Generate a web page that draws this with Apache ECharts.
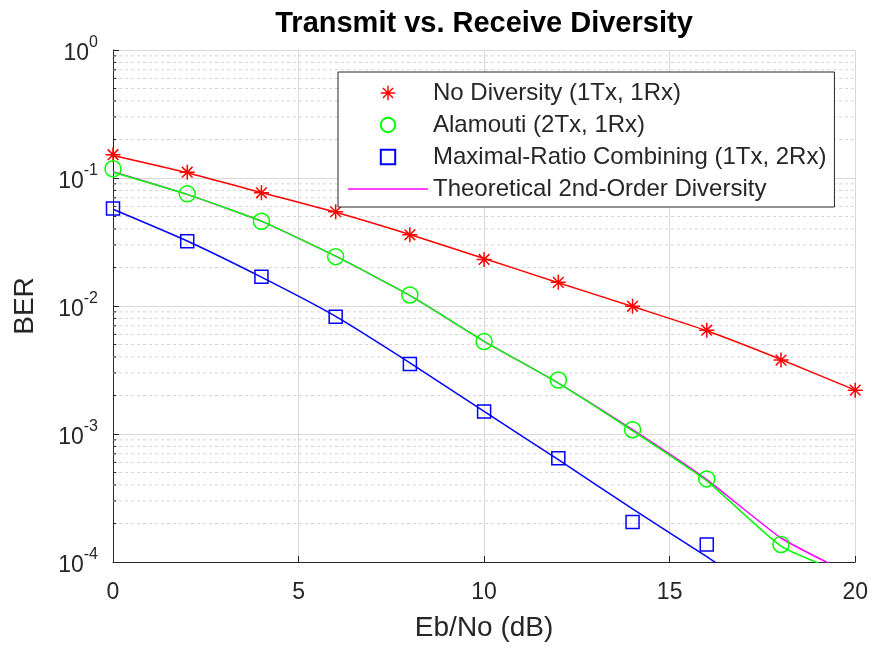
<!DOCTYPE html>
<html>
<head>
<meta charset="utf-8">
<script src="https://cdn.jsdelivr.net/npm/echarts@6/dist/echarts.min.js"></script>
<style>
	html, body { margin: 0; padding: 0; background: #fff; }
	#echarts { width: 871px; height: 647px; }
</style>
</head>
<body>
<div id="echarts"></div>
<script>
// Eb/No (dB)
let ebno = [0, 2, 4, 6, 8, 10, 12, 14, 16, 18, 20];
// simulated BER (markers)
let berNoDiv = [0.152, 0.111, 0.0766, 0.0545, 0.036, 0.0231, 0.0153, 0.00995, 0.00647, 0.00378, 0.0022];
let berAlamouti = [0.118, 0.0752, 0.0459, 0.0243, 0.0122, 0.00527, 0.00264, 0.00108, 0.000446, 0.000137];
let berMrc = [0.0577, 0.0321, 0.0169, 0.00826, 0.00352, 0.0015, 0.000647, 0.000205, 0.000137];
// fitted curves
let fitNoDiv = [0.150, 0.110, 0.0770, 0.0540, 0.0362, 0.0235, 0.0152, 0.0099, 0.0064, 0.00382, 0.0022];
let fitAlamouti = [0.111, 0.0745, 0.046, 0.0245, 0.0121, 0.0053, 0.0025, 0.00106, 0.00043, 0.000133, 0.000075];
let fitMrc = [0.057, 0.0322, 0.0168, 0.0083, 0.0036, 0.0015, 0.00063, 0.00026, 0.00011, 0.000045];
// theoretical 2nd-order diversity
let berTheory = [0.112, 0.0745, 0.046, 0.0245, 0.0121, 0.0053, 0.0025, 0.00108, 0.00044, 0.000154, 0.000077];

let legendNames = ['No Diversity (1Tx, 1Rx)', 'Alamouti (2Tx, 1Rx)', 'Maximal-Ratio Combining (1Tx, 2Rx)', 'Theoretical 2nd-Order Diversity'];
let yDecades = [1e-4, 1e-3, 1e-2, 1e-1, 1];

let font = "'Liberation Sans', Arial, Helvetica, sans-serif";
let ink = '#262626';
let starPath = 'path://M9 0 L11 0 L11 20 L9 20 Z M0 9 L20 9 L20 11 L0 11 Z M3.6 2.2 L17.8 16.4 L16.4 17.8 L2.2 3.6 Z M16.4 2.2 L17.8 3.6 L3.6 17.8 L2.2 16.4 Z';

function pairs(xs, ys) {
	return ys.map(function(y, i) { return [xs[i], y]; });
}

// dotted minor grid at 2..9 of each decade, one short series per line
let minorSeries = [];
for (let i = 0; i < yDecades.length - 1; i++) {
	for (let k = 2; k <= 9; k++) {
		let v = yDecades[i] * k;
		minorSeries.push({
			type: 'line',
			data: [[0, v], [20, v]],
			symbol: 'none',
			silent: true,
			z: 1,
			lineStyle: { color: '#d4d4d4', width: 1, type: [3, 3] }
		});
		// small inward tick on the left axis
		minorSeries.push({
			type: 'line',
			data: [[0, v], [0.09, v]],
			symbol: 'none',
			silent: true,
			z: 3,
			lineStyle: { color: ink, width: 1 }
		});
	}
}

let myChart = echarts.init(document.getElementById('echarts'), null, { renderer: 'canvas' });

let option = {
	animation: false,
	backgroundColor: '#fff',
	textStyle: { fontFamily: font, color: ink },
	title: {
		text: 'Transmit vs. Receive Diversity',
		left: 479,
		textAlign: 'center',
		top: 4,
		textStyle: { fontFamily: font, fontSize: 29, fontWeight: 'bold', color: '#000' }
	},
	grid: { left: 113, right: 15, top: 50, bottom: 84 },
	legend: {
		data: [
			{ name: legendNames[0] },
			{ name: legendNames[1] },
			{ name: legendNames[2] },
			{ name: legendNames[3], icon: 'path://M0 0 L80 0 L80 1.4 L0 1.4 Z' }
		],
		orient: 'vertical',
		left: 338,
		top: 72,
		itemWidth: 80,
		itemHeight: 18,
		itemGap: 8,
		padding: [9, 8, 6, 9],
		backgroundColor: '#fff',
		borderColor: ink,
		borderWidth: 1,
		borderRadius: 0,
		selectedMode: false,
		textStyle: { fontFamily: font, fontSize: 24, color: ink }
	},
	xAxis: {
		type: 'value',
		min: 0,
		max: 20,
		interval: 5,
		name: 'Eb/No (dB)',
		nameLocation: 'middle',
		nameGap: 52,
		nameTextStyle: { fontFamily: font, fontSize: 28, color: ink },
		axisLine: { lineStyle: { color: ink, width: 1 } },
		axisTick: { inside: true, length: 6, lineStyle: { color: ink } },
		axisLabel: { margin: 19, fontSize: 23, color: ink, fontFamily: font },
		splitLine: { show: true, lineStyle: { color: '#d8d8d8', width: 1 } }
	},
	yAxis: {
		type: 'log',
		logBase: 10,
		min: 1e-4,
		max: 1,
		name: 'BER',
		nameLocation: 'middle',
		nameGap: 74,
		nameTextStyle: { fontFamily: font, fontSize: 28, color: ink },
		axisLine: { show: true, lineStyle: { color: ink, width: 1 } },
		axisTick: { show: true, inside: true, length: 6, lineStyle: { color: ink } },
		axisLabel: {
			margin: 15,
			color: ink,
			fontFamily: font,
			formatter: function(value) {
				return '{b|10}{s|' + Math.round(Math.log10(value)) + '}';
			},
			rich: {
				b: { fontSize: 23, fontFamily: font, color: ink, verticalAlign: 'bottom' },
				s: { fontSize: 16, fontFamily: font, color: ink, verticalAlign: 'bottom', padding: [0, 0, 14, 0] }
			}
		},
		splitLine: { show: true, lineStyle: { color: '#d8d8d8', width: 1 } }
	},
	series: minorSeries.concat([
		{
			name: legendNames[3],
			type: 'line',
			data: pairs(ebno, berTheory),
			symbol: 'none',
			smooth: 0.15,
			lineStyle: { color: '#ff00ff', width: 1.5 },
			itemStyle: { color: '#ff00ff' }
		},
		{
			name: 'fit no diversity',
			type: 'line',
			data: pairs(ebno, fitNoDiv),
			symbol: 'none',
			smooth: 0.2,
			lineStyle: { color: '#ff0000', width: 1.5 }
		},
		{
			name: 'fit alamouti',
			type: 'line',
			data: pairs(ebno, fitAlamouti),
			symbol: 'none',
			smooth: 0.15,
			lineStyle: { color: '#00ff00', width: 1.5 }
		},
		{
			name: 'fit mrc',
			type: 'line',
			data: pairs(ebno, fitMrc),
			symbol: 'none',
			smooth: 0.2,
			lineStyle: { color: '#0000ff', width: 1.5 }
		},
		{
			name: legendNames[0],
			type: 'line',
			data: pairs(ebno, berNoDiv),
			symbol: starPath,
			symbolSize: 15,
			showAllSymbol: true,
			lineStyle: { opacity: 0 },
			itemStyle: { color: '#ff0000' }
		},
		{
			name: legendNames[1],
			type: 'line',
			data: pairs(ebno, berAlamouti),
			symbol: 'circle',
			symbolSize: 16,
			showAllSymbol: true,
			lineStyle: { opacity: 0 },
			itemStyle: { color: 'rgba(0,0,0,0)', borderColor: '#00ff00', borderWidth: 1.5 }
		},
		{
			name: legendNames[2],
			type: 'line',
			data: pairs(ebno, berMrc),
			symbol: 'rect',
			symbolSize: 13,
			showAllSymbol: true,
			lineStyle: { opacity: 0 },
			itemStyle: { color: 'rgba(0,0,0,0)', borderColor: '#0000ff', borderWidth: 1.5 }
		}
	])
};
myChart.setOption(option);
</script>
</body>
</html>
